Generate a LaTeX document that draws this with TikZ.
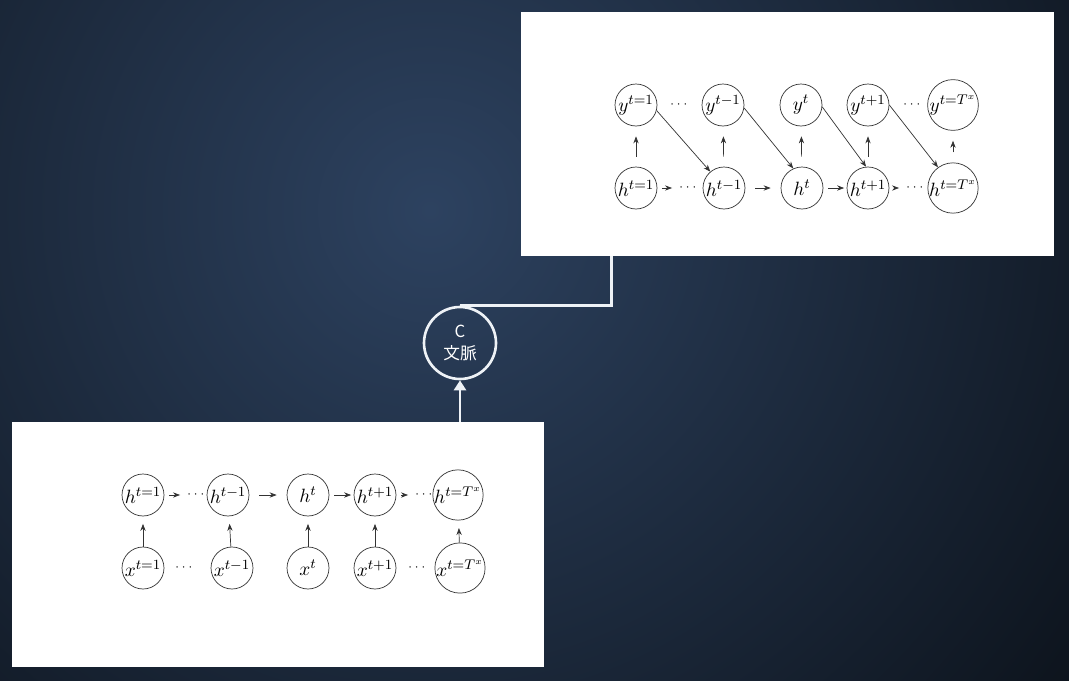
\documentclass[tikz,border=0pt]{standalone}
\usepackage{amsmath}
\usepackage{fontspec}
\newfontfamily\cjk{Noto Sans CJK JP}
\usetikzlibrary{arrows.meta}
\usetikzlibrary{calc}
\definecolor{bgin}{HTML}{2D4260}
\definecolor{bgout}{HTML}{070B10}
\definecolor{wire}{HTML}{333333}
\definecolor{ctxline}{HTML}{EEF2F6}

\begin{document}
\begin{tikzpicture}[x=0.02cm,y=-0.02cm,>/.tip={Stealth[length=4pt,width=3pt]},
	unit/.style={shape=circle,draw=wire,thin,minimum size=0.84cm,inner sep=0pt,font=\fontsize{11}{13}\selectfont},
	gap/.style={font=\scriptsize,inner sep=1pt},
	link/.style={->,draw=wire,thin,shorten <=1mm,shorten >=1mm},
	diag/.style={->,draw=wire,thin},
	panel/.style={shape=rectangle,fill=white,inner sep=0pt}]
	\useasboundingbox (0,0) rectangle (1069,680);
	\begin{scope}
		\clip (0,0) rectangle (1069,680);
		\shade[inner color=bgin,outer color=bgout] (430,210) circle (19cm);
	\end{scope}
	% panels
	\draw (787.5,134) node (dec) [panel,minimum width=10.66cm,minimum height=4.88cm] {};
	\draw (278,544.5) node (enc) [panel,minimum width=10.64cm,minimum height=4.9cm] {};
	% decoder
	\draw (636,105) node (dy1) [unit] {$y^{t=1}$};
	\draw (723,105) node (dy2) [unit] {$y^{t-1}$};
	\draw (801,105) node (dy3) [unit] {$y^{t}$};
	\draw (868,105) node (dy4) [unit] {$y^{t+1}$};
	\draw (953,105) node (dy5) [unit] {$y^{t=T^x}$};
	\draw (680,105) node (dyg1) [gap] {$\cdots$};
	\draw (913,105) node (dyg2) [gap] {$\cdots$};
	\draw (636,188) node (dh1) [unit] {$h^{t=1}$};
	\draw (724,188) node (dh2) [unit] {$h^{t-1}$};
	\draw (802,188) node (dh3) [unit] {$h^{t}$};
	\draw (868,188) node (dh4) [unit] {$h^{t+1}$};
	\draw (953,188) node (dh5) [unit] {$h^{t=T^x}$};
	\draw (689,188) node (dhg1) [gap] {$\cdots$};
	\draw (916,188) node (dhg2) [gap] {$\cdots$};
	\draw[link] (dh1) -- (dhg1);
	\draw[link,shorten <=2mm,shorten >=2mm] (dh2) -- (dh3);
	\draw[link,shorten >=0.5mm] (dh3) -- (dh4);
	\draw[link] (dh4) -- (dhg2);
	\draw[link,shorten <=2mm,shorten >=2mm] (dh1) -- (dy1);
	\draw[link,shorten <=2mm,shorten >=2mm] (dh2) -- (dy2);
	\draw[link,shorten <=2mm,shorten >=2mm] (dh3) -- (dy3);
	\draw[link,shorten <=2mm,shorten >=2mm] (dh4) -- (dy4);
	\draw[link,shorten <=2mm,shorten >=2mm] (dh5) -- (dy5);
	\draw[diag] (dy1.-15) -- (dh2.130);
	\draw[diag] (dy2.-8) -- (dh3.114);
	\draw[diag] (dy3.-5) -- (dh4.95);
	\draw[diag] (dy4.0) -- (dh5.126);
	% encoder
	\draw (143,495) node (eh1) [unit] {$h^{t=1}$};
	\draw (228,495) node (eh2) [unit] {$h^{t-1}$};
	\draw (308,495) node (eh3) [unit] {$h^{t}$};
	\draw (375,495) node (eh4) [unit] {$h^{t+1}$};
	\draw (458,495) node (eh5) [unit] {$h^{t=T^x}$};
	\draw (197,495) node (ehg1) [gap] {$\cdots$};
	\draw (425,495) node (ehg2) [gap] {$\cdots$};
	\draw (143,568) node (ex1) [unit] {$x^{t=1}$};
	\draw (232,568) node (ex2) [unit] {$x^{t-1}$};
	\draw (308,568) node (ex3) [unit] {$x^{t}$};
	\draw (375,568) node (ex4) [unit] {$x^{t+1}$};
	\draw (460,568) node (ex5) [unit] {$x^{t=T^x}$};
	\draw (185,568) node (exg1) [gap] {$\cdots$};
	\draw (418,568) node (exg2) [gap] {$\cdots$};
	\draw[link] (eh1) -- (ehg1);
	\draw[link,shorten <=2mm,shorten >=2mm] (eh2) -- (eh3);
	\draw[link,shorten >=0.5mm] (eh3) -- (eh4);
	\draw[link] (eh4) -- (ehg2);
	\draw[link,shorten <=0mm,shorten >=1.5mm] (ex1) -- (eh1);
	\draw[link,shorten <=0mm,shorten >=1.5mm] (ex2) -- (eh2);
	\draw[link,shorten <=0mm,shorten >=1.5mm] (ex3) -- (eh3);
	\draw[link,shorten <=0mm,shorten >=1.5mm] (ex4) -- (eh4);
	\draw[link,shorten <=0mm,shorten >=1.5mm] (ex5) -- (eh5);
	% context
	\draw (460,343) node (ctx) [shape=circle,draw=ctxline,line width=1.5pt,minimum size=1.44cm,inner sep=0pt,text=white,align=center,font=\cjk\fontsize{9.5}{12.5}\selectfont] {C\\文脈};
	\coordinate (tap) at ($(dec.south west)+(91,0)$);
	\draw[ctxline,line width=1.5pt] (tap) |- (ctx.north);
	\draw[-{Triangle[width=0.24cm,length=0.2cm]},ctxline,line width=1.5pt] (enc.north -| ctx) -- (ctx.south);
\end{tikzpicture}
\end{document}
